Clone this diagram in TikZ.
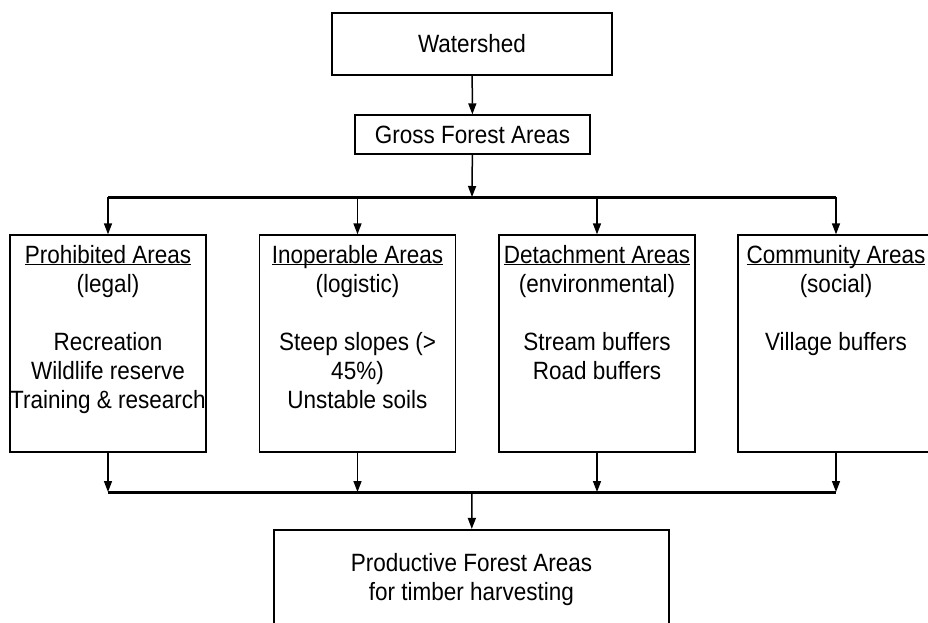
\documentclass[tikz,border=0pt]{standalone}
\usepackage{fontspec}
\setmainfont{Liberation Sans}[FakeStretch=0.9]
\usetikzlibrary{arrows.meta}

% underlined title, same rule height with or without descenders
\newcommand{\areatitle}[1]{\underline{\smash{#1}\vphantom{A}}}
% text of an area box, set from the top (lines may run a little past the sides)
\newcommand{\areatext}[1]{\parbox[c][195pt][t]{194pt}{\centering
  \leftskip=-8pt plus 1fil \rightskip=-8pt plus 1fil #1}}

\tikzset{
  thinbox/.style={draw, line width=1.3pt, align=center, inner sep=0pt},
  thickbox/.style={draw, line width=2.2pt, align=center, inner sep=0pt},
  areabox/.style={draw, line width=1.3pt, inner xsep=1pt, inner ysep=11pt,
    minimum width=196pt},
  link/.style={line width=1.5pt},
  bar/.style={line width=3pt}
}

\begin{document}
\begin{tikzpicture}[x=1pt, y=-1pt, font=\fontsize{25}{29}\selectfont,
    >={Triangle[length=11pt,width=8pt]}]
    \useasboundingbox (0,0) rectangle (928,623);
    \clip (0,0) rectangle (928,623);

    % === TOP ===
    \node[thickbox, minimum width=280pt, minimum height=62pt] (water) at (472,44) {Watershed};
    \node[thinbox, minimum width=235pt, minimum height=39pt] (gross) at (472.5,134.5) {Gross Forest Areas};

    \coordinate (split) at (472,197);
    \coordinate (join) at (472,492);

    % === AREAS ===
    \node[areabox] (prohib) at (108,343.5) {\areatext{\areatitle{Prohibited Areas}\\ (legal)\\[29pt]
      Recreation\\ Wildlife reserve\\ Training \& research}};
    \node[areabox] (inoper) at (357.5,343.5) {\areatext{\areatitle{Inoperable Areas}\\ (logistic)\\[29pt]
      Steep slopes (>\\ 45\%)\\ Unstable soils}};
    \node[areabox] (detach) at (597,343.5) {\areatext{\areatitle{Detachment Areas}\\ (environmental)\\[29pt]
      Stream buffers\\ Road buffers}};
    \node[areabox] (commun) at (836,343.5) {\areatext{\areatitle{Community Areas}\\ (social)\\[29pt]
      Village buffers}};

    % === BOTTOM ===
    \node[thickbox, minimum width=395pt, minimum height=100pt] (harvest) at (471.5,580)
      {Productive Forest Areas\\for timber harvesting};

    % connectors
    \draw[->, link] (water) -- (gross);
    \draw[->, link] (gross) -- (split);
    \draw[bar] (prohib.north |- split) -- (commun.north |- split);
    \foreach \n in {prohib, inoper, detach, commun} {
        \draw[->, link] (\n.north |- split) -- (\n);
        \draw[->, link] (\n) -- (\n.south |- join);
    }
    \draw[bar] (prohib.south |- join) -- (commun.south |- join);
    \draw[->, link] (join) -- (harvest);

\end{tikzpicture}
\end{document}
